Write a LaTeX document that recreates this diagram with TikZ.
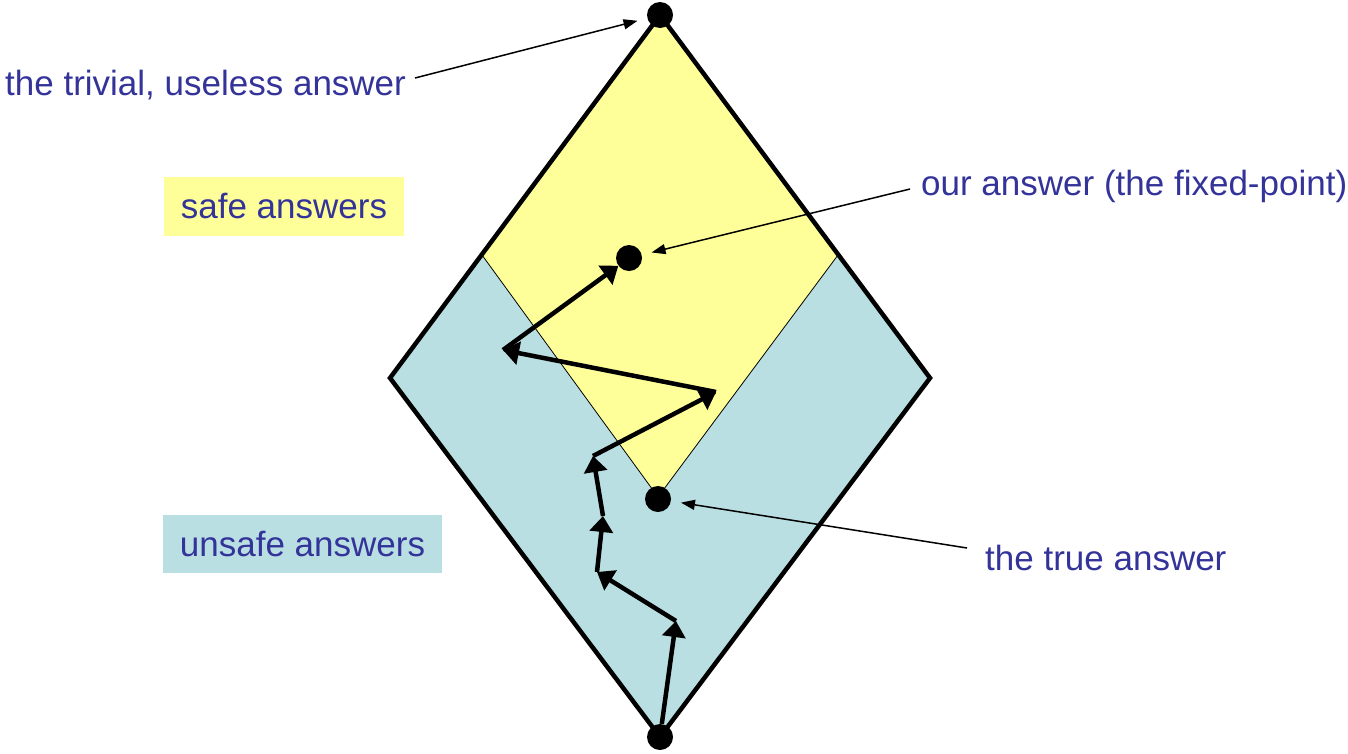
\documentclass[tikz,border=0pt]{standalone}
\usepackage{fontspec}
\setmainfont{Liberation Sans}
\usetikzlibrary{arrows.meta}
\definecolor{txt}{HTML}{333399}
\definecolor{safe}{HTML}{FFFF99}
\definecolor{unsafe}{HTML}{B9DFE3}
\begin{document}
\begin{tikzpicture}[x=1pt,y=-1pt,
 lbl/.style={text=txt, font=\fontsize{35}{42}\selectfont, inner sep=0pt, anchor=base west},
 boxlbl/.style={text=txt, font=\fontsize{35}{42}\selectfont, inner sep=0pt},
 dot/.style={circle, fill=black, minimum size=26pt, inner sep=0pt},
 walk/.style={line width=4.5pt, -{Triangle[length=16pt,width=23pt]}},
 pointer/.style={line width=1.5pt, -{Triangle[length=14pt,width=10pt]}, shorten >=10pt},
 ]
\useasboundingbox (0,0) rectangle (1348,753);
% regions
\coordinate (T) at (660,15);
\coordinate (B) at (660,737);
\coordinate (L) at (390,378);
\coordinate (R) at (930,378);
\coordinate (SL) at (482,255);
\coordinate (SR) at (838,255);
\coordinate (SB) at (658,497);
\fill[unsafe] (T) -- (R) -- (B) -- (L) -- cycle;
\fill[safe] (T) -- (SR) -- (SB) -- (SL) -- cycle;
\draw[line width=0.8pt] (SL) -- (SB) -- (SR);
\draw[line width=4.5pt, line join=miter] (T) -- (R) -- (B) -- (L) -- cycle;
% dots
\node[dot] (top) at (660,15) {};
\node[dot] (ours) at (629,258) {};
\node[dot] (true) at (658,499) {};
\node[dot] (bottom) at (660,737) {};
% walk
\coordinate (w1) at (676,621);
\coordinate (w2) at (597,572);
\coordinate (w3) at (603,516);
\coordinate (w4) at (593,456);
\coordinate (w5) at (716,392);
\coordinate (w6) at (503,350);
\draw[walk] (bottom) -- (w1);
\draw[walk] (w1) -- (w2);
\draw[walk] (w2) -- (w3);
\draw[walk] (w3) -- (w4);
\draw[walk] (w4) -- (w5);
\draw[walk] (w5) -- (w6);
\draw[walk] (w6) -- (ours);
% labels
\node[lbl] (trivial) at (5,95) {the trivial, useless answer};
\node[lbl] (ourlbl) at (921,195) {our answer (the fixed-point)};
\node[lbl] (truelbl) at (985,570) {the true answer};
\node[boxlbl, fill=safe, minimum width=240pt, minimum height=59pt] (safelbl) at (284,206.5) {safe answers};
\node[boxlbl, fill=unsafe, minimum width=279pt, minimum height=58pt] (unsafelbl) at (302.5,544) {unsafe answers};
% pointers
\coordinate (s1) at (415,78);
\coordinate (s2) at (910,189);
\coordinate (s3) at (967,548);
\draw[pointer] (s1) -- (top);
\draw[pointer] (s2) -- (ours);
\draw[pointer] (s3) -- (true);
\end{tikzpicture}
\end{document}
